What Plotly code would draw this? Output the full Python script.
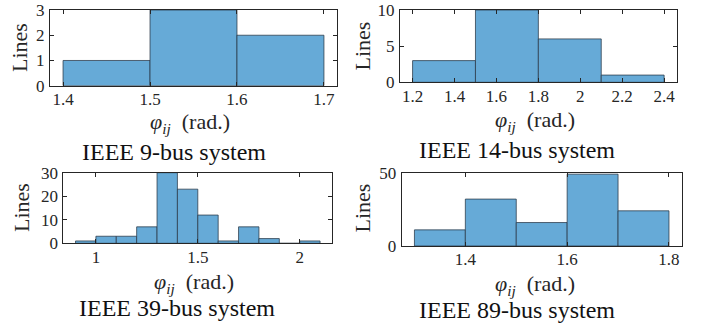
import plotly.graph_objects as go

# ---- data ----
titles = ["IEEE 9-bus system", "IEEE 14-bus system", "IEEE 39-bus system", "IEEE 89-bus system"]

edges_9 = [1.4, 1.5, 1.6, 1.7]
counts_9 = [1, 3, 2]

edges_14 = [1.2, 1.5, 1.8, 2.1, 2.4]
counts_14 = [3, 10, 6, 1]

edges_39 = [0.9, 1.0, 1.1, 1.2, 1.3, 1.4, 1.5, 1.6, 1.7, 1.8, 1.9, 2.0, 2.1]
counts_39 = [1, 3, 3, 7, 30, 23, 12, 1, 7, 2, 0, 1]

edges_89 = [1.3, 1.4, 1.5, 1.6, 1.7, 1.8]
counts_89 = [11, 32, 16, 49, 24]

xticks_9 = [1.4, 1.5, 1.6, 1.7]
xticklabels_9 = ["1.4", "1.5", "1.6", "1.7"]
yticks_9 = [0, 1, 2, 3]

xticks_14 = [1.2, 1.4, 1.6, 1.8, 2.0, 2.2, 2.4]
xticklabels_14 = ["1.2", "1.4", "1.6", "1.8", "2", "2.2", "2.4"]
yticks_14 = [0, 5, 10]

xticks_39 = [1.0, 1.5, 2.0]
xticklabels_39 = ["1", "1.5", "2"]
yticks_39 = [0, 10, 20, 30]

xticks_89 = [1.4, 1.6, 1.8]
xticklabels_89 = ["1.4", "1.6", "1.8"]
yticks_89 = [0, 50]

xlabel = "<i>φ</i><sub><i>ij</i></sub>  (rad.)"
ylabel = "Lines"

# ---- layout geometry (page pixels) ----
W, H = 704, 333


def px(x):
    return x / W


def py(y):
    return 1 - y / H


FONT = "Liberation Serif"
AX = "#262626"
FACE = "#66AAD7"
EDGE = "rgba(40,55,70,0.75)"

panels = [
    dict(edges=edges_9, counts=counts_9, xt=xticks_9, xtl=xticklabels_9, yt=yticks_9,
         yr=[0, 3], box=(50, 337, 10, 85.7), xlab=(190, 123), ylab=(20, 48), tit=(174, 152)),
    dict(edges=edges_14, counts=counts_14, xt=xticks_14, xtl=xticklabels_14, yt=yticks_14,
         yr=[0, 10], box=(400, 676.7, 10, 82.3), xlab=(535, 121), ylab=(361.5, 46), tit=(517, 150)),
    dict(edges=edges_39, counts=counts_39, xt=xticks_39, xtl=xticklabels_39, yt=yticks_39,
         yr=[0, 30], box=(63.3, 332.3, 172.7, 243.3), xlab=(194, 283), ylab=(21, 208), tit=(177, 308)),
    dict(edges=edges_89, counts=counts_89, xt=xticks_89, xtl=xticklabels_89, yt=yticks_89,
         yr=[0, 50], box=(401.7, 681.7, 172.7, 246), xlab=(535, 285), ylab=(361.5, 208), tit=(517, 310)),
]

fig = go.Figure()
annotations = []
for i, p in enumerate(panels, start=1):
    e = p["edges"]
    centers = [(e[k] + e[k + 1]) / 2 for k in range(len(e) - 1)]
    widths = [e[k + 1] - e[k] for k in range(len(e) - 1)]
    sfx = "" if i == 1 else str(i)
    fig.add_trace(go.Bar(
        x=centers, y=p["counts"], width=widths,
        marker=dict(color=FACE, line=dict(color=EDGE, width=1)),
        xaxis="x" + sfx, yaxis="y" + sfx, showlegend=False, hoverinfo="skip",
    ))
    span = e[-1] - e[0]
    xr = [e[0] - 0.05 * span, e[-1] + 0.05 * span]
    x0, x1, yt, yb = p["box"]
    axcommon = dict(showline=True, linecolor=AX, linewidth=1, mirror="ticks", ticks="inside",
                    ticklen=4, tickcolor=AX, showgrid=False, zeroline=False, automargin=False,
                    ticklabeloverflow="allow",
                    tickfont=dict(family=FONT, size=17, color=AX))
    fig.update_layout(**{
        "xaxis" + sfx: dict(domain=[px(x0), px(x1)], range=xr, tickmode="array",
                            tickvals=p["xt"], ticktext=p["xtl"], anchor="y" + sfx,
                            ticklabelstandoff=-2, **axcommon),
        "yaxis" + sfx: dict(domain=[py(yb), py(yt)], range=p["yr"], tickmode="array",
                            tickvals=p["yt"], ticktext=[str(v) for v in p["yt"]],
                            anchor="x" + sfx, ticklabelstandoff=1, **axcommon),
    })
    annotations.append(dict(text=xlabel, x=px(p["xlab"][0]), y=py(p["xlab"][1]),
                            xref="paper", yref="paper", showarrow=False,
                            xanchor="center", yanchor="middle",
                            font=dict(family=FONT, size=22, color=AX)))
    annotations.append(dict(text=ylabel, x=px(p["ylab"][0]), y=py(p["ylab"][1]),
                            xref="paper", yref="paper", showarrow=False, textangle=-90,
                            xanchor="center", yanchor="middle",
                            font=dict(family=FONT, size=22, color=AX)))
    annotations.append(dict(text=titles[i - 1], x=px(p["tit"][0]), y=py(p["tit"][1]),
                            xref="paper", yref="paper", showarrow=False,
                            xanchor="center", yanchor="middle",
                            font=dict(family=FONT, size=24, color="#111111")))

fig.update_layout(width=W, height=H, margin=dict(l=0, r=0, t=0, b=0, autoexpand=False),
                  paper_bgcolor="white", plot_bgcolor="white", bargap=0, hovermode=False,
                  annotations=annotations)
fig.write_html("out.html", config={"displayModeBar": False, "staticPlot": True},
               post_script="document.body.style.margin='0';document.body.style.overflow='hidden';")
